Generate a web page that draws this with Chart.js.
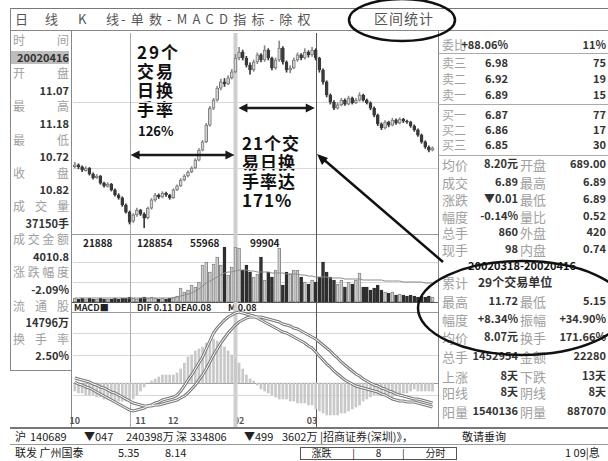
<!DOCTYPE html>
<html><head><meta charset="utf-8">
<script src="https://cdn.jsdelivr.net/npm/chart.js@4/dist/chart.umd.min.js"></script>
<style>
html,body{margin:0;padding:0}
body{width:608px;height:461px;overflow:hidden;background:#fff;position:relative;font-family:"Noto Sans CJK SC","Noto Sans",sans-serif;color:#333}
.a{position:absolute;white-space:nowrap;line-height:1}
.ln{position:absolute;background:#8c8c8c}
canvas{position:absolute}
.lab{color:#a0a0a0;font-size:12px}
.val{color:#333;font-size:11px;font-weight:bold}
.note{position:absolute;font-weight:bold;color:#111;font-size:17px;line-height:1;white-space:nowrap}
.sm{font-size:10px;font-weight:bold;color:#222}
</style></head><body>
<div id="root"></div>
<canvas id="cK" width="365" height="199" style="left:73px;top:33px"></canvas>
<canvas id="cV" width="365" height="70" style="left:73px;top:232px"></canvas>
<canvas id="cM" width="365" height="125" style="left:73px;top:302px"></canvas>
<svg width="608" height="461" style="position:absolute;left:0;top:0;z-index:5;pointer-events:none">
<ellipse cx="402" cy="20" rx="53" ry="21" fill="none" stroke="#111" stroke-width="2.5"/>
<ellipse cx="522" cy="308" rx="104" ry="47" fill="none" stroke="#111" stroke-width="2.5"/>
<line x1="443" y1="262" x2="322" y2="158" stroke="#111" stroke-width="2.5"/>
<polygon points="317,154 328,158 322,165" fill="#111"/>
</svg>
<script>
// ---------- data ----------
const categories = Array.from({length: 100}, (_, i) => String(i + 1));
const open = [7.30,7.36,7.29,7.16,7.25,7.04,6.90,6.97,6.72,6.60,
6.69,6.48,6.30,6.20,5.95,5.70,5.38,5.60,5.77,5.63,
5.50,5.84,6.13,6.30,6.23,6.37,6.30,6.20,6.48,6.62,
6.83,6.97,7.11,7.25,7.53,7.88,8.17,8.76,9.36,9.64,
10.06,10.28,10.21,10.42,10.63,11.12,11.33,11.12,10.87,10.70,
10.98,11.23,11.05,11.40,11.12,10.77,11.05,11.47,10.98,10.70,
10.77,11.05,11.23,11.12,11.33,11.23,11.40,11.12,10.70,10.28,
9.82,9.57,9.36,9.47,9.64,9.50,9.71,9.54,9.64,9.82,
9.64,9.54,9.36,9.11,8.80,8.66,8.87,8.76,8.94,8.83,
8.97,8.90,8.87,8.73,8.59,8.41,8.17,7.99,7.88];
const high = [7.45,7.40,7.33,7.30,7.27,7.08,7.02,6.99,6.76,6.74,
6.71,6.52,6.35,6.24,5.99,5.74,5.65,5.84,5.80,5.68,
5.88,6.18,6.36,6.34,6.42,6.40,6.33,6.52,6.66,6.88,
7.02,7.15,7.30,7.58,7.93,8.22,8.82,9.42,9.70,10.12,
10.38,10.40,10.50,10.72,11.25,11.50,11.40,11.18,10.95,11.05,
11.30,11.28,11.55,11.45,11.15,11.12,11.72,11.52,11.02,10.85,
11.12,11.30,11.28,11.45,11.38,11.50,11.45,11.15,10.74,10.32,
9.86,9.62,9.55,9.70,9.68,9.78,9.75,9.70,9.90,9.85,
9.68,9.58,9.40,9.15,8.84,8.92,8.90,9.00,8.98,9.02,
9.00,8.94,8.90,8.77,8.63,8.45,8.21,8.03,8.00];
const low = [7.25,7.22,7.12,7.14,7.00,6.86,6.88,6.68,6.58,6.58,
6.44,6.26,6.15,5.90,5.66,5.28,5.33,5.55,5.58,5.15,
5.46,5.80,6.08,6.18,6.20,6.25,6.15,6.18,6.45,6.60,
6.80,6.94,7.08,7.22,7.50,7.85,8.14,8.72,9.30,9.60,
10.00,10.12,10.18,10.38,10.60,11.05,11.05,10.80,10.55,10.65,
10.92,10.98,11.00,11.05,10.70,10.72,11.00,10.90,10.62,10.60,
10.74,11.00,11.05,11.08,11.15,11.18,11.05,10.62,10.20,9.75,
9.50,9.30,9.32,9.44,9.45,9.47,9.50,9.51,9.60,9.60,
9.50,9.30,9.05,8.74,8.60,8.63,8.70,8.73,8.78,8.80,
8.85,8.82,8.68,8.54,8.36,8.12,7.94,7.82,7.85];
const close = [7.36,7.29,7.18,7.25,7.04,6.90,6.97,6.72,6.62,6.69,
6.48,6.30,6.20,5.95,5.70,5.35,5.60,5.77,5.63,5.49,
5.84,6.13,6.30,6.23,6.37,6.30,6.20,6.48,6.62,6.83,
6.97,7.11,7.25,7.53,7.88,8.17,8.76,9.36,9.64,10.06,
10.28,10.21,10.42,10.63,11.12,11.33,11.12,10.87,10.70,10.98,
11.23,11.05,11.40,11.12,10.77,11.05,11.47,10.98,10.70,10.77,
11.05,11.23,11.12,11.33,11.23,11.40,11.12,10.70,10.28,9.82,
9.57,9.36,9.47,9.64,9.50,9.71,9.54,9.64,9.82,9.64,
9.54,9.36,9.11,8.80,8.66,8.87,8.76,8.94,8.83,8.97,
8.90,8.87,8.73,8.59,8.41,8.17,7.99,7.88,7.95];
const volume = [3200,2400,3200,2400,3200,2400,2400,3200,2400,2400,
2400,3200,2400,3200,3200,4000,3200,2400,3200,4000,
3200,4000,3200,2400,3200,2400,3200,4000,4800,11200,
8000,9600,13600,12000,16000,29600,32000,24000,30400,36000,
29600,44000,21600,28000,44000,43200,25600,29600,24000,20000,
22400,36000,17600,24000,20000,25600,43200,13600,24000,22400,
25600,25600,20000,16000,14400,17600,16000,20000,32000,24000,
20000,17600,14400,17600,12000,16000,14400,17600,23200,12000,
12000,9600,11200,13600,9600,8000,7200,8000,5600,6400,
5600,4800,5600,4800,4000,4800,4000,4800,4000];
const volumeMA = [3200,3200,3200,3200,3200,3200,3200,3200,3200,3200,
3200,3200,3200,3200,3200,3200,3200,3200,3200,3200,
3200,3200,3200,3200,3200,3200,3200,3200,4000,4800,
5600,6400,7200,8800,10400,12800,15200,16800,18400,20000,
21600,23200,24000,24000,24800,25600,25600,25600,24800,24800,
24000,24000,24000,24000,23200,23200,23200,23200,22400,22400,
22400,22400,21600,21600,20800,20800,20000,20000,20000,20000,
19200,19200,19200,19200,18400,18400,18400,18400,18400,17600,
17600,17600,17600,17600,17600,16800,16800,16800,16800,16800,
16000,16000,16000,16000,16000,16000,15200,15200,15200];
const dif = [0.01,-0.01,-0.02,-0.04,-0.05,-0.07,-0.09,-0.11,-0.13,-0.15,
-0.17,-0.19,-0.21,-0.23,-0.25,-0.27,-0.28,-0.27,-0.26,-0.25,
-0.23,-0.22,-0.20,-0.19,-0.17,-0.16,-0.15,-0.14,-0.12,-0.08,
-0.03,0.03,0.08,0.14,0.20,0.26,0.34,0.42,0.50,0.55,
0.59,0.63,0.66,0.68,0.70,0.71,0.70,0.69,0.68,0.67,
0.65,0.63,0.61,0.59,0.57,0.55,0.53,0.51,0.50,0.48,
0.46,0.44,0.42,0.40,0.37,0.35,0.31,0.27,0.23,0.19,
0.16,0.12,0.09,0.06,0.03,0.01,-0.01,-0.03,-0.04,-0.05,
-0.06,-0.07,-0.08,-0.09,-0.11,-0.12,-0.14,-0.16,-0.17,-0.18,
-0.18,-0.19,-0.19,-0.19,-0.20,-0.21,-0.22,-0.23,-0.24];
const dea = [0.05,0.04,0.03,0.02,0.01,-0.01,-0.02,-0.04,-0.05,-0.07,
-0.09,-0.10,-0.12,-0.14,-0.16,-0.18,-0.20,-0.21,-0.22,-0.23,
-0.23,-0.23,-0.22,-0.22,-0.21,-0.20,-0.19,-0.18,-0.17,-0.15,
-0.13,-0.10,-0.06,-0.02,0.03,0.08,0.14,0.21,0.28,0.34,
0.40,0.45,0.50,0.54,0.58,0.61,0.63,0.65,0.66,0.66,
0.66,0.66,0.65,0.64,0.63,0.62,0.61,0.59,0.58,0.57,
0.55,0.54,0.52,0.50,0.48,0.46,0.44,0.41,0.38,0.35,
0.32,0.28,0.25,0.21,0.18,0.15,0.12,0.09,0.07,0.04,
0.02,0.00,-0.02,-0.03,-0.05,-0.06,-0.08,-0.09,-0.11,-0.12,
-0.13,-0.14,-0.15,-0.16,-0.16,-0.17,-0.18,-0.19,-0.20];
const macdHist = [-0.08,-0.10,-0.10,-0.12,-0.12,-0.12,-0.14,-0.14,-0.16,-0.16,
-0.16,-0.18,-0.18,-0.18,-0.18,-0.18,-0.16,-0.12,-0.08,-0.04,
0.00,0.02,0.04,0.06,0.08,0.08,0.08,0.08,0.10,0.14,
0.20,0.26,0.28,0.32,0.34,0.36,0.40,0.42,0.44,0.42,
0.38,0.36,0.32,0.28,0.24,0.20,0.14,0.08,0.04,0.02,
-0.02,-0.06,-0.08,-0.10,-0.12,-0.14,-0.16,-0.16,-0.16,-0.18,
-0.18,-0.20,-0.20,-0.20,-0.22,-0.22,-0.26,-0.28,-0.30,-0.32,
-0.32,-0.32,-0.32,-0.30,-0.30,-0.28,-0.26,-0.24,-0.22,-0.18,
-0.16,-0.14,-0.12,-0.12,-0.12,-0.12,-0.12,-0.14,-0.12,-0.12,
-0.10,-0.10,-0.08,-0.06,-0.08,-0.08,-0.08,-0.08,-0.08];
const tickIndex = [0, 18, 27, 45, 65];
const tickText = ['10', '11', '12', '02', '03'];
// annotation spans (trading-day indices) and their price levels
const spanStart = [15, 44];
const spanEnd = [44, 66];
const spanLevel = [7.71, 9.36];
const markIndex = [15, 44, 66];

// ---------- static panels ----------
const root = document.getElementById('root');
function el(html){ root.insertAdjacentHTML('beforeend', html); }
function line(x,y,w,h,c){ el(`<div class="ln" style="left:${x}px;top:${y}px;width:${w}px;height:${h}px;background:${c||'#8c8c8c'}"></div>`); }

// frame lines
line(10,8,598,1,'#777'); line(10,30,598,1,'#888'); line(10,8,1,23,'#888');
line(10,31,1,339,'#888'); line(71,31,1,396,'#888'); line(10,370,62,1,'#888');
line(438,31,1,396,'#888'); line(72,234,366,1,'#999'); line(72,302,366,1,'#555'); line(72,312,366,1,'#999');
line(10,427,598,2,'#777'); line(10,444,598,1,'#999');
line(438,53,170,1,'#aaa'); line(438,104,170,1,'#aaa'); line(438,155,170,1,'#aaa');

// title
const tpos = [[15,'日'],[45,'线'],[78,'K'],[106,'线']];
tpos.forEach(([x,t])=>el(`<div class="a" style="left:${x}px;top:12px;font-size:13px;color:#555">${t}</div>`));
el(`<div class="a" style="left:121px;top:12px;font-size:13px;color:#555;letter-spacing:5.2px">-单数-MACD指标-除权</div>`);
el(`<div class="a" style="left:374px;top:11px;font-size:14px;color:#555;letter-spacing:1px">区间统计</div>`);

// left panel
const leftItems = ['时间','20020416','开盘','11.07','最高','11.18','最低','10.72','收盘','10.82','成交量','37150手','成交金额','4010.8','涨跌幅度','-2.09%','流通股','14796万','换手率','2.50%'];
leftItems.forEach((t,k)=>{
  const y = 34 + k*16.6;
  if(k%2===0){
    el(`<div class="a lab" style="left:13px;top:${y}px;width:56px;display:flex;justify-content:space-between">${[...t].map(c=>`<span>${c}</span>`).join('')}</div>`);
  } else {
    const bg = k===1 ? 'background:#bdbdbd;' : '';
    el(`<div class="a val" style="left:11px;top:${y}px;width:58px;text-align:right;${bg}padding:1px 0">${t}</div>`);
  }
});

// right panel
const rTopY = [45,63,79,95,115,130,145];
const rTop = [['委比','+88.06%','11%'],['卖三','6.98','75'],['卖二','6.92','19'],['卖一','6.89','15'],['买一','6.87','77'],['买二','6.86','17'],['买三','6.85','30']];
rTop.forEach((r,i)=>{
  const y = rTopY[i]-6;
  el(`<div class="a lab" style="left:442px;top:${y}px">${r[0]}</div>`);
  el(`<div class="a val" style="left:456px;top:${y}px;width:52px;text-align:right">${r[1]}</div>`);
  el(`<div class="a val" style="left:560px;top:${y}px;width:46px;text-align:right">${r[2]}</div>`);
});
const rMidY = [165,183,200,217,233,250];
const rMid = [['均价','8.20元','开盘','689.00'],['成交','6.89','最高','6.89'],['涨跌','▼0.01','最低','6.89'],['幅度','-0.14%','量比','0.52'],['总手','860','外盘','420'],['现手','98','内盘','0.74']];
rMid.forEach((r,i)=>{
  const y = rMidY[i]-7;
  el(`<div class="a lab" style="left:442px;top:${y}px;font-size:13px">${r[0]}</div>`);
  el(`<div class="a val" style="left:468px;top:${y}px;width:50px;text-align:right">${r[1]}</div>`);
  el(`<div class="a lab" style="left:520px;top:${y}px;font-size:13px">${r[2]}</div>`);
  el(`<div class="a val" style="left:548px;top:${y}px;width:58px;text-align:right">${r[3]}</div>`);
});
el(`<div class="a" style="left:468px;top:260px;font-size:11px;font-weight:bold;color:#111">20020318-20020416</div>`);
const statY = [283,302,320,338,357,377,393,412];
const stats = [['累计','29个交易单位','',''],['最高','11.72','最低','5.15'],['幅度','+8.34%','振幅','+34.90%'],['均价','8.07元','换手','171.66%'],['总手','1452954','金额','22280'],['上涨','8天','下跌','13天'],['阳线','8天','阴线','8天'],['阳量','1540136','阴量','887070']];
stats.forEach((r,i)=>{
  const y = statY[i]-7;
  el(`<div class="a lab" style="left:442px;top:${y}px;font-size:13px">${r[0]}</div>`);
  if(r[2]===''){
    el(`<div class="a val" style="left:478px;top:${y}px;font-size:12px">${r[1]}</div>`);
  } else {
    el(`<div class="a val" style="left:466px;top:${y}px;width:52px;text-align:right">${r[1]}</div>`);
    el(`<div class="a lab" style="left:520px;top:${y}px;font-size:13px">${r[2]}</div>`);
    el(`<div class="a val" style="left:548px;top:${y}px;width:58px;text-align:right">${r[3]}</div>`);
  }
});

// notes
const note1 = ['29个','交易','日换','手率'];
note1.forEach((t,i)=>el(`<div class="note" style="left:137px;top:${43+i*19}px;letter-spacing:2px">${t}</div>`));
el(`<div class="note" style="left:138px;top:124px;font-size:13px">126%</div>`);
const note2 = ['21个交','易日换','手率达','171%'];
note2.forEach((t,i)=>el(`<div class="note" style="left:242px;top:${134+i*19}px;letter-spacing:1px">${t}</div>`));

// volume / macd header labels
[[83,'21888'],[137,'128854'],[190,'55968'],[250,'99904']].forEach(([x,t])=>el(`<div class="a sm" style="left:${x}px;top:238px">${t}</div>`));
[[74,'MACD■'],[137,'DIF 0.11 DEA0.08'],[228,'M 0.08']].forEach(([x,t])=>el(`<div class="a sm" style="left:${x}px;top:303px;font-size:9px">${t}</div>`));

// bottom status rows
[[15,'沪'],[30,'140689'],[84,'▼047'],[126,'240398万'],[176,'深'],[190,'334806'],[244,'▼499'],[282,'3602万'],[320,'|招商证券(深圳)》，'],[462,'敬请垂询']]
  .forEach(([x,t])=>el(`<div class="a" style="left:${x}px;top:431px;font-size:11px;color:#222">${t}</div>`));
[[15,'联发 广州国泰'],[118,'5.35'],[165,'8.14'],[565,'1 09|息']]
  .forEach(([x,t])=>el(`<div class="a" style="left:${x}px;top:447px;font-size:11px;color:#222">${t}</div>`));
el(`<div class="a" style="left:300px;top:447px;width:155px;height:11px;border:1px solid #555;font-size:10px;display:flex;justify-content:space-around;color:#222"><span>涨跌</span><span>|</span><span>8</span><span>|</span><span>分时</span></div>`);

// ---------- charts ----------
const up = close.map((c,i)=>c>=open[i]);
const markStyle = [{c:'#aaaaaa',w:1},{c:'#cfcfcf',w:4},{c:'#555555',w:1}];
function markers(grid, zero){
  return {
    id:'mk',
    beforeDatasetsDraw(ch){
      const {ctx, chartArea:a, scales:{x,y}} = ch;
      ctx.save();
      grid.forEach(v=>{ const py=Math.round(y.getPixelForValue(v))+0.5; ctx.strokeStyle='#d8d8d8'; ctx.lineWidth=1; ctx.beginPath(); ctx.moveTo(a.left,py); ctx.lineTo(a.right,py); ctx.stroke(); });
      if(zero!==undefined){ const py=Math.round(y.getPixelForValue(zero))+0.5; ctx.strokeStyle='#9a9a9a'; ctx.beginPath(); ctx.moveTo(a.left,py); ctx.lineTo(a.right,py); ctx.stroke(); }
      markIndex.forEach((idx,k)=>{ const px=Math.round(x.getPixelForValue(idx))+0.5; ctx.strokeStyle=markStyle[k].c; ctx.lineWidth=markStyle[k].w; ctx.beginPath(); ctx.moveTo(px,a.top); ctx.lineTo(px,a.bottom); ctx.stroke(); });
      ctx.restore();
    }
  };
}
const spans = {
  id:'spans',
  afterDatasetsDraw(ch){
    const {ctx, scales:{x,y}} = ch;
    ctx.save(); ctx.strokeStyle='#1a1a1a'; ctx.fillStyle='#1a1a1a'; ctx.lineWidth=2.5;
    spanStart.forEach((s,i)=>{
      const x1 = x.getPixelForValue(s)+ (i===1?3:1), x2 = x.getPixelForValue(spanEnd[i]) - 1, py = y.getPixelForValue(spanLevel[i]);
      ctx.beginPath(); ctx.moveTo(x1+6,py); ctx.lineTo(x2-6,py); ctx.stroke();
      ctx.beginPath(); ctx.moveTo(x1,py); ctx.lineTo(x1+9,py-4.5); ctx.lineTo(x1+9,py+4.5); ctx.closePath(); ctx.fill();
      ctx.beginPath(); ctx.moveTo(x2,py); ctx.lineTo(x2-9,py-4.5); ctx.lineTo(x2-9,py+4.5); ctx.closePath(); ctx.fill();
    });
    ctx.restore();
  }
};
function opts(min,max){
  return {responsive:false, animation:false, events:[], layout:{padding:0},
    plugins:{legend:{display:false}, tooltip:{enabled:false}},
    scales:{x:{type:'category', offset:true, display:false}, y:{min, max, display:false}}};
}
new Chart(document.getElementById('cK'), {
  type:'bar',
  data:{labels:categories, datasets:[
    {data:low.map((l,i)=>[l,high[i]]), backgroundColor:up.map(u=>u?'#8a8a8a':'#3a3a3a'), barThickness:1, grouped:false, order:2},
    {data:open.map((o,i)=>[o,close[i]]), backgroundColor:up.map(u=>u?'#d4d4d4':'#3a3a3a'), borderColor:up.map(u=>u?'#7a7a7a':'#3a3a3a'), borderWidth:1, borderSkipped:false, barThickness:3, minBarLength:1, grouped:false, order:1}
  ]},
  options:opts(5.0,12.0),
  plugins:[markers([7.25,9.57]), spans]
});
new Chart(document.getElementById('cV'), {
  type:'bar',
  data:{labels:categories, datasets:[
    {type:'line', data:volumeMA, borderColor:'#8a8a8a', borderWidth:1, pointRadius:0, order:0},
    {data:volume, backgroundColor:up.map(u=>u?'#cfcfcf':'#2e2e2e'), borderColor:up.map(u=>u?'#888':'#2e2e2e'), borderWidth:1, borderSkipped:false, barThickness:3, order:1}
  ]},
  options:opts(0,56000),
  plugins:[markers([16000,32000])]
});
const macdChart = new Chart(document.getElementById('cM'), {
  type:'bar',
  data:{labels:categories, datasets:[
    {type:'line', data:dif, borderColor:'#7a7a7a', borderWidth:3, pointRadius:0, order:3},
    {type:'line', data:dea, borderColor:'#7a7a7a', borderWidth:3, pointRadius:0, order:2},
    {type:'line', data:dif, borderColor:'#ffffff', borderWidth:1, pointRadius:0, order:1},
    {type:'line', data:dea, borderColor:'#ffffff', borderWidth:1, pointRadius:0, order:0},
    {data:macdHist, backgroundColor:'#c8c8c8', barThickness:2, order:4}
  ]},
  options:opts(-0.44,0.81),
  plugins:[markers([0.5,0.28,-0.12], 0)]
});
// date tick labels placed through the x scale
const xs = macdChart.scales.x;
tickIndex.forEach((idx,k)=>{
  const px = 73 + xs.getPixelForValue(idx);
  el(`<div class="a" style="left:${px-8}px;top:416px;width:16px;text-align:center;font-size:9px;font-weight:bold;color:#555">${tickText[k]}</div>`);
});
</script>
</body></html>
